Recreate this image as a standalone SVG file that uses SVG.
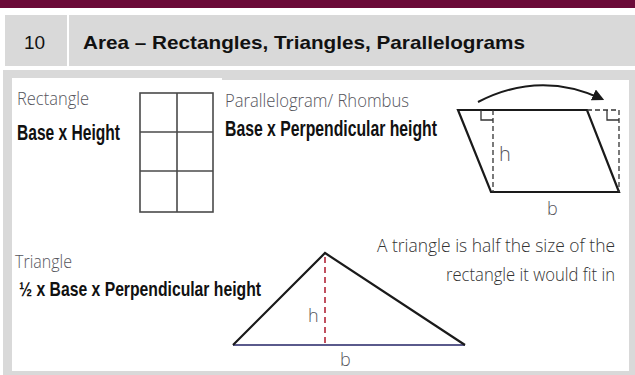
<svg xmlns="http://www.w3.org/2000/svg" width="635" height="375" viewBox="0 0 635 375">
  <defs>
    <style>
      .hdr { font-family: "Liberation Sans", Arial, sans-serif; fill: #111; }
      .thin { font-family: "Open Sans", "Roboto", "DejaVu Sans", sans-serif; font-weight: 300; fill: #55555c; }
      .note { font-family: "Open Sans", "Roboto", "DejaVu Sans", sans-serif; font-weight: 300; fill: #333; }
      .bold { font-family: "Liberation Sans", Arial, sans-serif; font-weight: bold; fill: #111; }
      .shape { fill: none; stroke: #1a1a1a; stroke-width: 2.2; stroke-linejoin: miter; }
      .grid { fill: none; stroke: #4a4a4a; stroke-width: 1.6; }
      .dash { fill: none; stroke: #333; stroke-width: 1.3; stroke-dasharray: 5 3; }
      .mark { fill: none; stroke: #333; stroke-width: 1.3; }
      .reddash { fill: none; stroke: #c0505e; stroke-width: 2; stroke-dasharray: 6 4; }
    </style>
    <marker id="arrowhead" viewBox="0 0 10 10" refX="8" refY="5" markerWidth="6" markerHeight="6" orient="auto" markerUnits="strokeWidth">
      <path d="M0,0 L10,5 L0,10 Z" fill="#1a1a1a"/>
    </marker>
  </defs>

  <rect x="0" y="0" width="635" height="375" fill="#ffffff"/>
  <rect x="0" y="0" width="635" height="8" fill="#6b0a38"/>

  <g id="header">
    <rect x="5" y="15" width="62" height="51" fill="#d9d9d9"/>
    <rect x="69" y="15" width="566" height="51" fill="#d9d9d9"/>
    <text class="hdr" x="24" y="49" font-size="19">10</text>
    <text class="hdr" x="83" y="49" font-size="19" font-weight="bold" textLength="442" lengthAdjust="spacingAndGlyphs">Area – Rectangles, Triangles, Parallelograms</text>
  </g>

  <g id="panel">
    <rect x="3" y="70" width="632" height="305" fill="#d9d9d9"/>
    <rect x="12" y="78" width="210" height="4" fill="#ffffff"/>
    <rect x="12" y="80" width="617" height="291" fill="#ffffff"/>
  </g>

  <g id="rectangle">
    <text class="thin" x="17" y="105" font-size="19" textLength="72" lengthAdjust="spacingAndGlyphs">Rectangle</text>
    <text class="bold" x="17" y="140" font-size="22" textLength="103" lengthAdjust="spacingAndGlyphs">Base x Height</text>
    <rect class="grid" x="140" y="93" width="73" height="119"/>
    <line class="grid" x1="177" y1="93" x2="177" y2="212"/>
    <line class="grid" x1="140" y1="132" x2="213" y2="132"/>
    <line class="grid" x1="140" y1="171" x2="213" y2="171"/>
  </g>

  <g id="parallelogram">
    <text class="thin" x="225" y="107" font-size="19" textLength="184" lengthAdjust="spacingAndGlyphs">Parallelogram/ Rhombus</text>
    <text class="bold" x="225" y="136" font-size="22" textLength="212" lengthAdjust="spacingAndGlyphs">Base x Perpendicular height</text>
    <polygon class="shape" points="458,110 587,110 619,192 491,192"/>
    <line class="dash" x1="493" y1="110" x2="493" y2="192"/>
    <polyline class="mark" points="481,110 481,120 493,120"/>
    <line class="dash" x1="587" y1="110" x2="619" y2="110"/>
    <line class="dash" x1="619" y1="110" x2="619" y2="192"/>
    <polyline class="mark" points="607,110 607,120 619,120"/>
    <text class="thin" x="499" y="161" font-size="20">h</text>
    <text class="thin" x="547" y="215" font-size="18">b</text>
  </g>

  <g id="connectors">
    <path d="M478,102 Q540,70 602,99" fill="none" stroke="#1a1a1a" stroke-width="2" marker-end="url(#arrowhead)"/>
  </g>

  <g id="triangle">
    <text class="thin" x="15" y="268" font-size="19" textLength="57" lengthAdjust="spacingAndGlyphs">Triangle</text>
    <text class="bold" x="19" y="296" font-size="21" textLength="242" lengthAdjust="spacingAndGlyphs">½ x Base x Perpendicular height</text>
    <line x1="233" y1="345" x2="465" y2="345" stroke="#5a5a8c" stroke-width="2"/>
    <polyline class="shape" points="233,345 325,253 465,345"/>
    <line class="reddash" x1="325" y1="257" x2="325" y2="345"/>
    <text class="thin" x="308" y="322" font-size="18">h</text>
    <text class="thin" x="340" y="366" font-size="18">b</text>
    <text class="note" x="615" y="252" font-size="18" text-anchor="end" textLength="238" lengthAdjust="spacingAndGlyphs">A triangle is half the size of the</text>
    <text class="note" x="615" y="281" font-size="18" text-anchor="end" textLength="169" lengthAdjust="spacingAndGlyphs">rectangle it would fit in</text>
  </g>
</svg>
